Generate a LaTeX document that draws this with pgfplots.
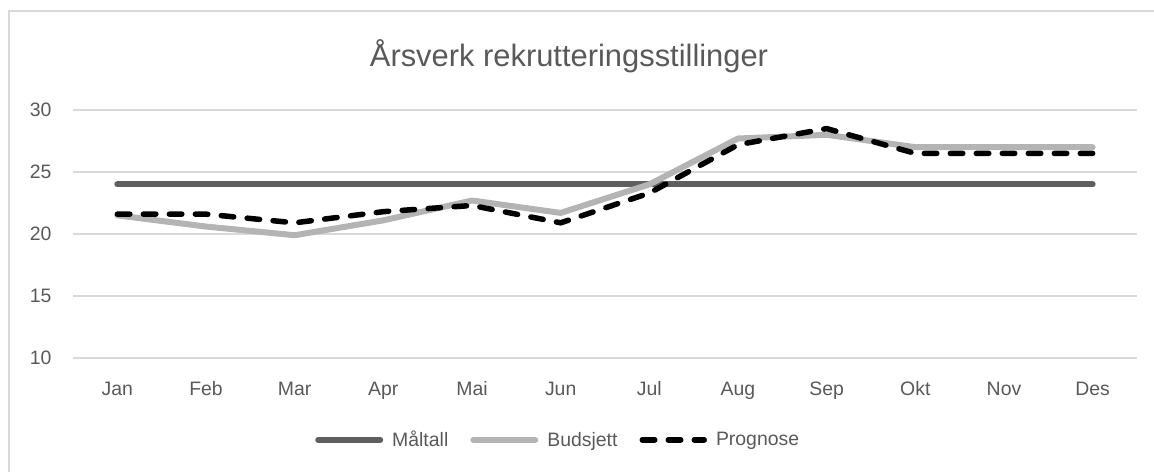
\documentclass[border=0pt]{standalone}
\usepackage{pgfplots}
\pgfplotsset{compat=1.18}
\usepackage{fontspec}
\setmainfont{Liberation Sans}
\definecolor{txt}{HTML}{595959}
\definecolor{gridc}{HTML}{D9D9D9}
\definecolor{malt}{HTML}{5F5F5F}
\definecolor{bud}{HTML}{B4B4B4}
\pgfplotstableread{
x maal bud prog
0 24 21.5 21.6
1 24 20.6 21.6
2 24 19.9 20.9
3 24 21.1 21.8
4 24 22.7 22.3
5 24 21.7 20.9
6 24 24.0 23.3
7 24 27.7 27.2
8 24 28.0 28.5
9 24 27.0 26.5
10 24 27.0 26.5
11 24 27.0 26.5
}\datatab
\begin{document}
\begin{tikzpicture}[x=1bp,y=1bp]
\path[use as bounding box] (0,0) rectangle (1154,472);
\draw[gridc, line width=1.5bp] (9,-5) -- (9,461) -- (1160,461);
\node[anchor=base, text=txt, font=\fontsize{31}{36}\selectfont, inner sep=0] at (569,405) {Årsverk rekrutteringsstillinger};
\begin{axis}[
 at={(73bp,114bp)}, anchor=south west, scale only axis,
 width=1064bp, height=248bp,
 xmin=-0.5, xmax=11.5, ymin=10, ymax=30,
 ytick={10,15,20,25,30},
 xtick={0,...,11},
 xticklabels={Jan,Feb,Mar,Apr,Mai,Jun,Jul,Aug,Sep,Okt,Nov,Des},
 /pgf/number format/assume math mode=true,
 axis line style={draw=none}, major tick length=0,
 ymajorgrids, grid style={gridc, line width=1.5bp},
 tick label style={text=txt, font=\fontsize{19.5}{23}\selectfont},
 yticklabel style={anchor=east, xshift=-18bp},
 xticklabel style={anchor=base, yshift=-38bp},
 legend style={at={(0.456,-0.33)}, anchor=center, draw=none, fill=none,
   font=\fontsize{19.5}{23}\selectfont, text=txt,
   /tikz/every odd column/.append style={column sep=7bp},
   /tikz/every even column/.append style={column sep=20bp}},
 legend columns=3,
 legend image code/.code={\draw[#1] (0bp,0bp) -- (62bp,0bp);},
 clip=false,
]
\addplot[malt, line width=6bp, line cap=round, line join=round] table[x=x,y=maal]{\datatab};
\addlegendentry{Måltall}
\addplot[bud, line width=6bp, line cap=round, line join=round] table[x=x,y=bud]{\datatab};
\addlegendentry{Budsjett}
\addplot[black, line width=5.5bp, line cap=round, line join=round, dash pattern=on 12.5bp off 13.5bp] table[x=x,y=prog]{\datatab};
\addlegendentry{Prognose}
\end{axis}
\end{tikzpicture}
\end{document}
